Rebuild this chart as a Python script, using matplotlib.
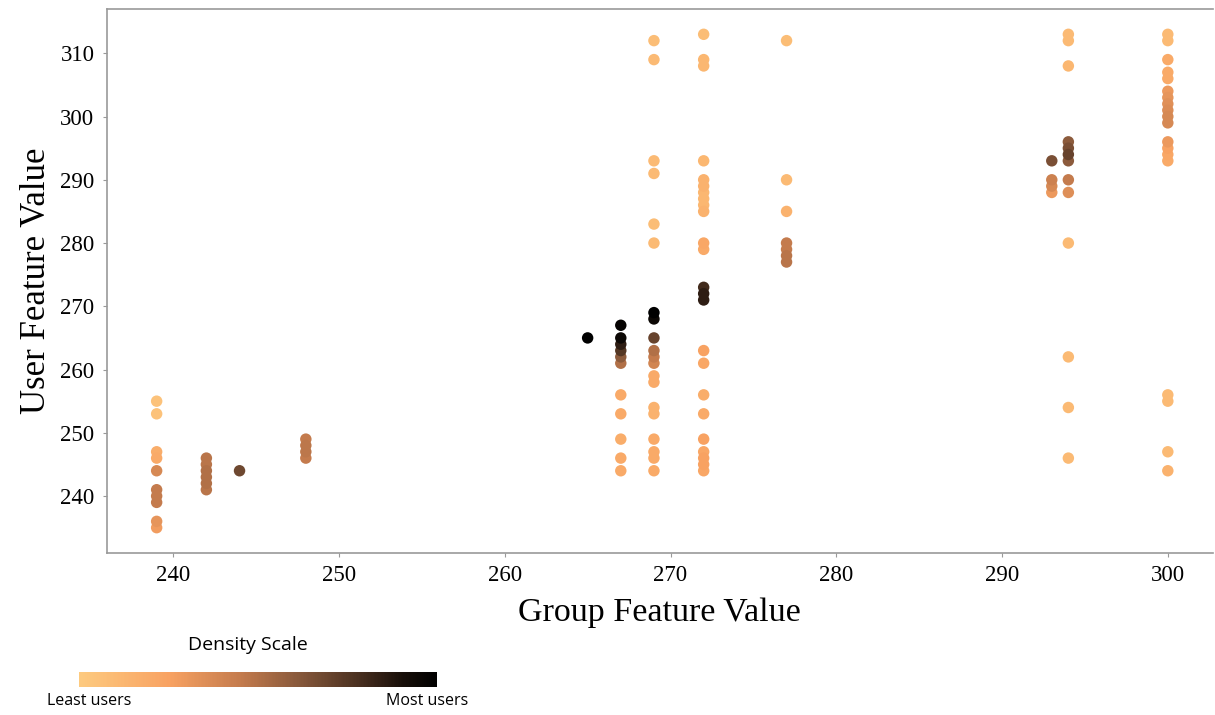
import matplotlib
matplotlib.use("Agg")
import matplotlib.pyplot as plt
import matplotlib.colors as mcolors
import matplotlib.colorbar as mcolorbar
import numpy as np

# group feature value -> user feature values and density (0 = least users, 1 = most users)
col_239_y = [255, 253, 247, 246, 244, 241, 240, 239, 236, 235]
col_239_d = [0.05, 0.05, 0.18, 0.2, 0.38, 0.45, 0.45, 0.45, 0.32, 0.28]
col_242_y = [246, 245, 244, 243, 242, 241]
col_242_d = [0.48, 0.48, 0.5, 0.5, 0.5, 0.48]
col_244_y = [244]
col_244_d = [0.68]
col_248_y = [249, 248, 247, 246]
col_248_d = [0.45, 0.47, 0.47, 0.45]
col_265_y = [265]
col_265_d = [1.0]
col_267_y = [267, 265, 264, 263, 262, 261, 256, 253, 249, 246, 244]
col_267_d = [0.98, 0.95, 0.85, 0.75, 0.6, 0.5, 0.2, 0.2, 0.18, 0.2, 0.2]
col_269_y = [312, 309, 293, 291, 283, 280, 269, 268, 265, 263, 262, 261, 259,
             258, 254, 253, 249, 247, 246, 244]
col_269_d = [0.08, 0.1, 0.1, 0.1, 0.08, 0.1, 1.0, 0.95, 0.7, 0.5, 0.45, 0.4, 0.2,
             0.2, 0.15, 0.15, 0.2, 0.2, 0.2, 0.2]
col_272_y = [313, 309, 308, 293, 290, 289, 288, 287, 286, 285, 280, 279, 273, 272,
             271, 263, 261, 256, 253, 249, 247, 246, 245, 244]
col_272_d = [0.08, 0.12, 0.12, 0.12, 0.15, 0.15, 0.12, 0.12, 0.12, 0.15, 0.22, 0.2,
             0.8, 0.85, 0.85, 0.25, 0.22, 0.18, 0.2, 0.25, 0.22, 0.25, 0.25, 0.22]
col_277_y = [312, 290, 285, 280, 279, 278, 277]
col_277_d = [0.08, 0.1, 0.15, 0.45, 0.45, 0.48, 0.48]
col_293_y = [293, 290, 289, 288]
col_293_d = [0.65, 0.42, 0.38, 0.3]
col_294_y = [313, 312, 308, 296, 295, 294, 293, 290, 288, 280, 262, 254, 246]
col_294_d = [0.1, 0.1, 0.12, 0.6, 0.65, 0.7, 0.6, 0.45, 0.35, 0.1, 0.1, 0.1, 0.1]
col_300_y = [313, 312, 309, 307, 306, 304, 303, 302, 301, 300, 299, 296, 295, 294,
             293, 256, 255, 247, 244]
col_300_d = [0.1, 0.1, 0.2, 0.2, 0.2, 0.3, 0.32, 0.34, 0.36, 0.38, 0.38, 0.3, 0.25,
             0.22, 0.2, 0.1, 0.1, 0.1, 0.15]

columns = {
    239: (col_239_y, col_239_d),
    242: (col_242_y, col_242_d),
    244: (col_244_y, col_244_d),
    248: (col_248_y, col_248_d),
    265: (col_265_y, col_265_d),
    267: (col_267_y, col_267_d),
    269: (col_269_y, col_269_d),
    272: (col_272_y, col_272_d),
    277: (col_277_y, col_277_d),
    293: (col_293_y, col_293_d),
    294: (col_294_y, col_294_d),
    300: (col_300_y, col_300_d),
}

x_ticks = [240, 250, 260, 270, 280, 290, 300]
y_ticks = [240, 250, 260, 270, 280, 290, 300, 310]

xs, ys, ds = [], [], []
for gx, (uy, dd) in columns.items():
    xs += [gx] * len(uy)
    ys += uy
    ds += dd
xs = np.array(xs)
ys = np.array(ys)
ds = np.array(ds)
order = np.argsort(ds)

cmap = mcolors.LinearSegmentedColormap.from_list(
    "density",
    [(0.0, "#fdca7f"), (0.25, "#f8a262"), (0.45, "#c47b4d"),
     (0.62, "#85573a"), (0.78, "#4a3020"), (0.9, "#1a100a"), (1.0, "#000000")])

fig = plt.figure(figsize=(12.15, 7.15), dpi=100)
ax = fig.add_axes([0.088, 0.2266, 0.91, 0.7608])

ax.scatter(xs[order], ys[order], c=ds[order], cmap=cmap, vmin=0, vmax=1,
           s=68, edgecolors="none")

ax.set_xlim(236.0, 302.7)
ax.set_ylim(231.0, 317.0)
ax.set_xticks(x_ticks)
ax.set_yticks(y_ticks)

for side in ["left", "bottom", "top"]:
    ax.spines[side].set_color("#999999")
    ax.spines[side].set_linewidth(1.2)
ax.spines["right"].set_visible(False)
ax.tick_params(axis="both", length=3, width=0.8, color="#999999",
               labelsize=16.5, pad=6)
for lab in ax.get_xticklabels() + ax.get_yticklabels():
    lab.set_fontfamily("Liberation Serif")

ax.set_xlabel("Group Feature Value", fontsize=24.5, fontfamily="Liberation Serif",
              labelpad=8)
ax.set_ylabel("User Feature Value", fontsize=25, fontfamily="Liberation Serif",
              labelpad=5)

# density scale bar at the bottom left
cax = fig.add_axes([79 / 1215, 1 - 687 / 715, 358 / 1215, 15 / 715])
cb = mcolorbar.ColorbarBase(cax, cmap=cmap, orientation="horizontal",
                            norm=mcolors.Normalize(0, 1))
cb.set_ticks([])
cb.outline.set_visible(False)

fig.text(248 / 1215, 1 - 645 / 715, "Density Scale", ha="center", va="center",
         fontsize=14, fontfamily="Open Sans")
fig.text(89 / 1215, 1 - 701 / 715, "Least users", ha="center", va="center",
         fontsize=11.5, fontfamily="Open Sans")
fig.text(427 / 1215, 1 - 701 / 715, "Most users", ha="center", va="center",
         fontsize=11.5, fontfamily="Open Sans")

fig.savefig("out.png", dpi=100)
